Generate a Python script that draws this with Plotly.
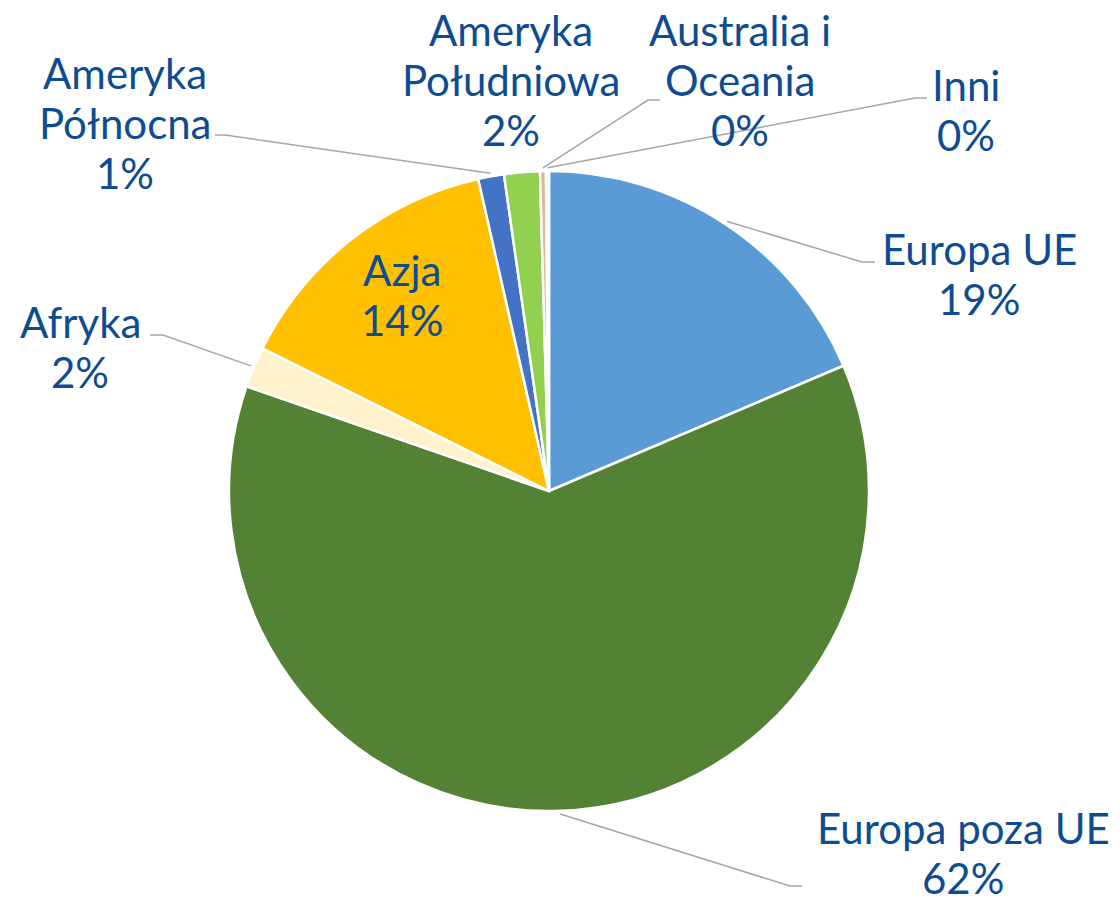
import math
import plotly.graph_objects as go

# ---- data ----
regions = ["Europa UE", "Europa poza UE", "Afryka", "Azja", "Ameryka Północna",
           "Ameryka Południowa", "Australia i Oceania", "Inni"]
shares = [18.6, 61.7, 2.05, 14.1, 1.3, 1.8, 0.3, 0.15]
label_lines = [["Europa UE", "19%"], ["Europa poza UE", "62%"], ["Afryka", "2%"], ["Azja", "14%"],
               ["Ameryka", "Północna", "1%"], ["Ameryka", "Południowa", "2%"],
               ["Australia i", "Oceania", "0%"], ["Inni", "0%"]]
colors = ["#5B9BD5", "#548235", "#FFF2CC", "#FFC000", "#4472C4", "#92D050", "#D7B89C", "#F4E3D3"]

# ---- layout geometry (pixels) ----
W, H = 1120, 905
CX, CY, R = 549, 491, 320
LINE = 50
# label centre x, first-line y (px), leader elbow / end (px); None = no leader line
label_pos = {
    "Europa UE": (979, 249, (862, 262), (875, 262)),
    "Europa poza UE": (963, 828, (790, 886), (802, 886)),
    "Afryka": (80, 322, (163, 335), (150, 335)),
    "Azja": (402, 270, None, None),
    "Ameryka Północna": (125, 73, (225, 135), (215, 135)),
    "Ameryka Południowa": (511, 30, None, None),
    "Australia i Oceania": (740, 30, (648, 100), (660, 100)),
    "Inni": (966, 85, (915, 98), (927, 98)),
}

def px(x):
    return x / W

def py(y):
    return 1 - y / H

fig = go.Figure(go.Pie(
    labels=regions, values=shares, sort=False, direction="clockwise", rotation=0,
    marker=dict(colors=colors, line=dict(color="white", width=2.5)),
    textinfo="none", hoverinfo="label+percent", showlegend=False,
    domain=dict(x=[px(CX - R), px(CX + R)], y=[py(CY + R), py(CY - R)]),
))

font = dict(family="Lato", size=42, color="#0E4C92")
annotations, shapes = [], []
total = sum(shares)
cum = 0.0
for name, val, lines in zip(regions, shares, label_lines):
    mid = (cum + val / 2) / total * 2 * math.pi
    cum += val
    lx, ly, elbow, end = label_pos[name]
    for i, t in enumerate(lines):
        annotations.append(dict(x=px(lx), y=py(ly + i * LINE), xref="paper", yref="paper",
                                text=t, showarrow=False, font=font, align="center",
                                xanchor="center", yanchor="middle"))
    if elbow is not None:
        sx = CX + R * 1.01 * math.sin(mid)
        sy = CY - R * 1.01 * math.cos(mid)
        path = f"M {px(sx)} {py(sy)} L {px(elbow[0])} {py(elbow[1])} L {px(end[0])} {py(end[1])}"
        shapes.append(dict(type="path", path=path, xref="paper", yref="paper",
                           line=dict(color="#A6A6A6", width=1.5)))

fig.update_layout(width=W, height=H, margin=dict(l=0, r=0, t=0, b=0),
                  paper_bgcolor="white", plot_bgcolor="white",
                  annotations=annotations, shapes=shapes)
fig.write_html("out.html", config={"displayModeBar": False},
               post_script="document.body.style.margin='0px';document.body.style.overflow='hidden';")
